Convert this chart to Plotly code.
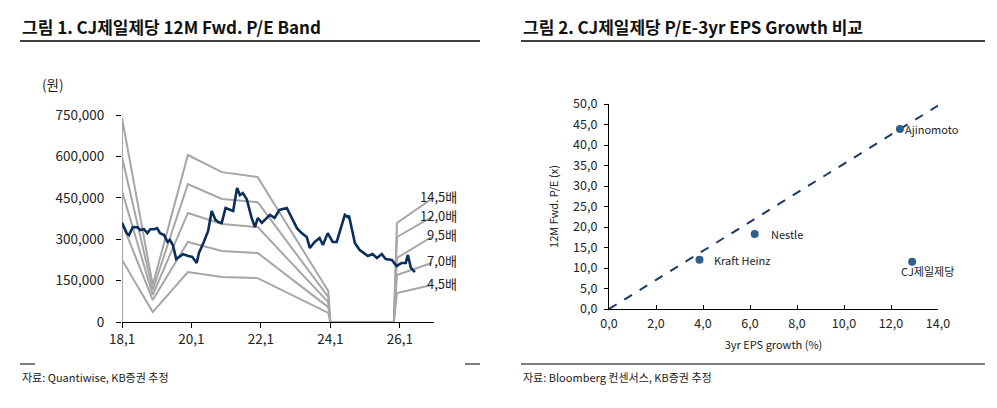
import plotly.graph_objects as go

# page body has an 8px margin, so the figure is shifted by that much
OFF = 8
W, H = 997 - OFF, 408 - OFF

# ---- left: P/E band ----
price_dates = [
    "2018-01-01", "2018-02-20", "2018-03-15", "2018-04-25", "2018-06-15", "2018-07-10", "2018-08-20",
    "2018-09-25", "2018-10-25", "2018-12-10", "2019-01-05", "2019-02-05", "2019-03-20", "2019-04-25",
    "2019-05-20", "2019-06-20", "2019-07-25", "2019-08-25", "2019-10-05", "2019-11-20", "2020-01-10",
    "2020-02-25", "2020-03-20", "2020-05-10", "2020-06-25", "2020-08-01", "2020-09-10", "2020-10-10",
    "2020-11-15", "2020-12-25", "2021-02-10", "2021-03-15", "2021-04-25", "2021-05-25", "2021-06-25",
    "2021-08-05", "2021-09-25", "2021-10-30", "2021-11-30", "2022-01-10", "2022-03-05", "2022-04-05",
    "2022-05-25", "2022-07-15", "2022-09-30", "2022-11-20", "2023-01-15", "2023-03-05", "2023-04-28",
    "2023-05-30", "2023-07-20", "2023-09-10", "2023-10-15", "2023-12-05", "2024-01-25", "2024-03-08",
    "2024-04-20", "2024-06-01", "2024-07-01", "2024-07-15", "2024-09-15", "2024-11-05", "2025-01-30",
    "2025-03-20", "2025-05-05", "2025-06-25", "2025-08-05", "2025-10-08", "2025-11-28", "2026-01-20",
    "2026-03-04", "2026-03-26", "2026-04-27", "2026-06-08",
]
price = [
    359000, 322000, 315000, 344000, 343000, 333000, 336000,
    322000, 336000, 336000, 340000, 322000, 315000, 290000,
    297000, 279000, 228000, 235000, 246000, 240000, 236000,
    214000, 250000, 290000, 330000, 402000, 370000, 362000,
    359000, 413000, 407000, 402000, 486000, 460000, 467000,
    445000, 377000, 344000, 377000, 359000, 377000, 388000,
    377000, 406000, 413000, 377000, 340000, 322000, 308000,
    268000, 290000, 304000, 279000, 322000, 290000, 290000,
    340000, 388000, 380000, 385000, 286000, 261000, 239000,
    246000, 232000, 246000, 228000, 225000, 203000, 214000,
    214000, 243000, 196000, 181000,
]

band_dates = ["2018-01-01", "2018-01-01", "2018-11-20", "2019-11-25", "2020-11-16", "2021-11-28",
              "2023-12-10", "2024-01-01", "2025-10-30", "2025-12-01", "2026-12-01"]
band_labels = ["14,5배", "12,0배", "9,5배", "7,0배", "4,5배"]
band_145 = [0, 739000, 134000, 605000, 543000, 525000, 112000, 0, 0, 359000, 446000]
band_120 = [0, 598000, 116000, 500000, 446000, 434000, 91000, 0, 0, 308000, 380000]
band_95 = [0, 475000, 98000, 395000, 355000, 344000, 72000, 0, 0, 232000, 308000]
band_70 = [0, 359000, 80000, 290000, 257000, 250000, 54000, 0, 0, 170000, 214000]
band_45 = [0, 225000, 36000, 181000, 163000, 159000, 33000, 0, 0, 105000, 134000]
bands = [band_145, band_120, band_95, band_70, band_45]

left_tickvals = ["2018-01-01", "2020-01-01", "2022-01-01", "2024-01-01", "2026-01-01"]
left_ticktext = ["18,1", "20,1", "22,1", "24,1", "26,1"]
left_yticks = [0, 150000, 300000, 450000, 600000, 750000]

# ---- right: P/E vs EPS growth ----
names = ["Kraft Heinz", "Nestle", "Ajinomoto", "CJ제일제당"]
eps_growth = [3.85, 6.2, 12.38, 12.9]
pe = [12.0, 18.3, 43.9, 11.5]
trend_x = [0.0, 14.0]
trend_y = [0.0, 49.6]
right_xticks = [0, 2, 4, 6, 8, 10, 12, 14]
right_yticks = [0, 5, 10, 15, 20, 25, 30, 35, 40, 45, 50]

FONT = "Noto Sans CJK KR"
GRAY = "#a6a6a6"
NAVY = "#0c2e5c"
DOT = "#2f5d8c"


def px(x):
    return (x - OFF) / W


def py(y):
    return 1 - (y - OFF) / H


fig = go.Figure()

for vals in bands:
    fig.add_trace(go.Scatter(x=band_dates, y=vals, mode="lines",
                             line=dict(color=GRAY, width=2), xaxis="x", yaxis="y",
                             hoverinfo="skip"))
fig.add_trace(go.Scatter(x=price_dates, y=price, mode="lines",
                         line=dict(color=NAVY, width=2.6), xaxis="x", yaxis="y"))

fig.add_trace(go.Scatter(x=trend_x, y=trend_y, mode="lines",
                         line=dict(color="#1c3a63", width=2, dash="dash"),
                         xaxis="x2", yaxis="y2"))
fig.add_trace(go.Scatter(x=eps_growth, y=pe, mode="markers",
                         marker=dict(color=DOT, size=8), xaxis="x2", yaxis="y2"))

tickfont = dict(family=FONT, size=13.5, color="#222")
rtickfont = dict(family=FONT, size=12.5, color="#222")
smallfont = dict(family=FONT, size=11, color="#222")

fig.update_layout(
    width=W, height=H, margin=dict(l=0, r=0, t=0, b=0, pad=0), autosize=False,
    paper_bgcolor="white", plot_bgcolor="white", showlegend=False,
    font=dict(family=FONT, size=12, color="#222"),
    xaxis=dict(domain=[px(122), px(434)], type="date", automargin=False,
               range=["2018-01-01", "2026-12-26"],
               tickvals=left_tickvals, ticktext=left_ticktext,
               showgrid=False, zeroline=False, showline=True, linecolor="black", linewidth=1.3,
               ticks="outside", ticklen=5, tickcolor="black", tickfont=tickfont),
    yaxis=dict(domain=[py(322), py(115)], range=[0, 750000], automargin=False,
               tickvals=left_yticks, tickformat=",",
               showgrid=False, zeroline=False, showline=False,
               ticks="outside", ticklen=5, tickcolor="black", tickfont=tickfont,
               ticklabelstandoff=9),
    xaxis2=dict(domain=[px(609), px(938)], range=[0, 14], anchor="y2", automargin=False,
                tickvals=right_xticks, ticktext=[f"{v:.1f}".replace(".", ",") for v in right_xticks],
                showgrid=False, zeroline=False, showline=True, linecolor="black", linewidth=1.3,
                ticks="inside", ticklen=4, tickcolor="black", tickfont=rtickfont,
                ticklabelstandoff=3,
                title=dict(text="3yr EPS growth (%)", font=smallfont, standoff=10)),
    yaxis2=dict(domain=[py(309), py(104)], range=[0, 50], anchor="x2", automargin=False,
                tickvals=right_yticks, ticktext=[f"{v:.1f}".replace(".", ",") for v in right_yticks],
                showgrid=False, zeroline=False, showline=True, linecolor="black", linewidth=1.3,
                ticks="outside", ticklen=4, tickcolor="black", tickfont=rtickfont,
                ticklabelstandoff=4,
                title=dict(text="12M Fwd. P/E (x)", font=smallfont, standoff=12)),
)

ann = []
# titles
ann.append(dict(x=px(20), y=py(27), xref="paper", yref="paper", xanchor="left", yanchor="middle",
                text="<b>그림 1. CJ제일제당 12M Fwd. P/E Band</b>", showarrow=False,
                font=dict(family=FONT, size=17, color="#111")))
ann.append(dict(x=px(521), y=py(27), xref="paper", yref="paper", xanchor="left", yanchor="middle",
                text="<b>그림 2. CJ제일제당 P/E-3yr EPS Growth 비교</b>", showarrow=False,
                font=dict(family=FONT, size=17, color="#111")))
# unit
ann.append(dict(x=px(40), y=py(84), xref="paper", yref="paper", xanchor="left", yanchor="middle",
                text="(원)", showarrow=False, font=dict(family=FONT, size=13.5, color="#222")))
# sources
ann.append(dict(x=px(20), y=py(377), xref="paper", yref="paper", xanchor="left", yanchor="middle",
                text="자료: Quantiwise, KB증권 추정", showarrow=False,
                font=dict(family=FONT, size=11, color="#222")))
ann.append(dict(x=px(521), y=py(377), xref="paper", yref="paper", xanchor="left", yanchor="middle",
                text="자료: Bloomberg 컨센서스, KB증권 추정", showarrow=False,
                font=dict(family=FONT, size=11, color="#222")))
# band labels at the end of each band
for lab, vals in zip(band_labels, bands):
    ann.append(dict(x=px(459), y=vals[-1], xref="paper", yref="y", xanchor="right", yanchor="middle",
                    yshift=2, text=lab, showarrow=False,
                    font=dict(family=FONT, size=13, color="#222")))
# scatter labels
offsets = {"Kraft Heinz": (13, 0, "left"), "Nestle": (14, 0, "left"),
           "Ajinomoto": (3, 0, "left"), "CJ제일제당": (15, -9, "center")}
for n, gx, gy in zip(names, eps_growth, pe):
    dx, dy, anc = offsets[n]
    ann.append(dict(x=gx, y=gy, xref="x2", yref="y2", xanchor=anc, yanchor="middle",
                    xshift=dx, yshift=dy, text=n, showarrow=False, font=smallfont))
fig.update_layout(annotations=ann)

shapes = [
    dict(type="line", xref="paper", yref="paper", x0=px(20), x1=px(480), y0=py(41), y1=py(41),
         line=dict(color="black", width=1.5)),
    dict(type="line", xref="paper", yref="paper", x0=px(521), x1=px(985), y0=py(41), y1=py(41),
         line=dict(color="black", width=1.5)),
    dict(type="line", xref="paper", yref="paper", x0=px(20), x1=px(35), y0=py(364), y1=py(364),
         line=dict(color="black", width=1)),
    dict(type="line", xref="paper", yref="paper", x0=px(465), x1=px(480), y0=py(364), y1=py(364),
         line=dict(color="black", width=1)),
    dict(type="line", xref="paper", yref="paper", x0=px(521), x1=px(985), y0=py(364), y1=py(364),
         line=dict(color="black", width=1)),
]
fig.update_layout(shapes=shapes)

fig.write_html("out.html")
